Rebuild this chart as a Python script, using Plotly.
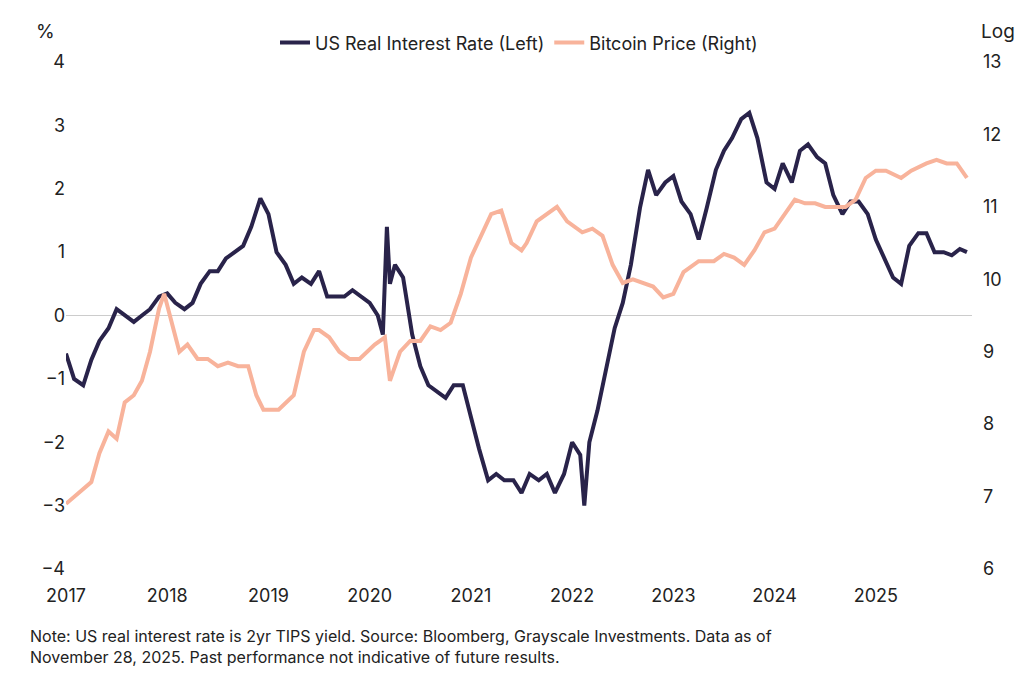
import plotly.graph_objects as go

rate_x = [2017.0,2017.08,2017.17,2017.25,2017.33,2017.42,2017.5,2017.58,2017.67,2017.75,2017.83,2017.92,
2018.0,2018.08,2018.17,2018.25,2018.33,2018.42,2018.5,2018.58,2018.67,2018.75,2018.83,2018.92,
2019.0,2019.08,2019.17,2019.25,2019.33,2019.42,2019.5,2019.58,2019.67,2019.75,2019.83,2019.92,
2020.0,2020.08,2020.13,2020.17,2020.2,2020.25,2020.33,2020.42,2020.5,2020.58,2020.67,2020.75,2020.83,2020.92,
2021.0,2021.08,2021.17,2021.25,2021.33,2021.42,2021.5,2021.58,2021.67,2021.75,2021.83,2021.92,
2022.0,2022.08,2022.12,2022.17,2022.25,2022.33,2022.42,2022.5,2022.58,2022.67,2022.75,2022.83,2022.92,
2023.0,2023.08,2023.17,2023.25,2023.33,2023.42,2023.5,2023.58,2023.67,2023.75,2023.83,2023.92,
2024.0,2024.08,2024.17,2024.25,2024.33,2024.42,2024.5,2024.58,2024.67,2024.75,2024.83,2024.92,
2025.0,2025.08,2025.17,2025.25,2025.33,2025.42,2025.5,2025.58,2025.67,2025.75,2025.83,2025.9]
rate_y = [-0.6,-1.0,-1.1,-0.7,-0.4,-0.2,0.1,0.0,-0.1,0.0,0.1,0.3,
0.35,0.2,0.1,0.2,0.5,0.7,0.7,0.9,1.0,1.1,1.4,1.85,
1.6,1.0,0.8,0.5,0.6,0.5,0.7,0.3,0.3,0.3,0.4,0.3,
0.2,0.0,-0.3,1.4,0.5,0.8,0.6,-0.3,-0.8,-1.1,-1.2,-1.3,-1.1,-1.1,
-1.6,-2.1,-2.6,-2.5,-2.6,-2.6,-2.8,-2.5,-2.6,-2.5,-2.8,-2.5,
-2.0,-2.2,-3.0,-2.0,-1.5,-0.9,-0.2,0.2,0.8,1.7,2.3,1.9,2.1,
2.2,1.8,1.6,1.2,1.7,2.3,2.6,2.8,3.1,3.2,2.8,2.1,
2.0,2.4,2.1,2.6,2.7,2.5,2.4,1.9,1.6,1.8,1.8,1.6,
1.2,0.9,0.6,0.5,1.1,1.3,1.3,1.0,1.0,0.95,1.05,1.0]

btc_x = [2017.0,2017.08,2017.17,2017.25,2017.33,2017.42,2017.5,2017.58,2017.67,2017.75,2017.83,2017.92,2017.97,
2018.05,2018.12,2018.2,2018.3,2018.4,2018.5,2018.6,2018.7,2018.8,2018.88,2018.95,
2019.1,2019.25,2019.35,2019.45,2019.5,2019.6,2019.7,2019.8,2019.9,
2020.05,2020.15,2020.2,2020.3,2020.4,2020.5,2020.6,2020.7,2020.8,2020.9,
2021.0,2021.1,2021.2,2021.3,2021.4,2021.5,2021.55,2021.65,2021.75,2021.85,2021.95,
2022.1,2022.2,2022.3,2022.4,2022.5,2022.6,2022.7,2022.8,2022.9,
2023.0,2023.1,2023.25,2023.4,2023.5,2023.6,2023.7,2023.8,2023.9,
2024.0,2024.1,2024.2,2024.3,2024.4,2024.5,2024.6,2024.7,2024.8,2024.9,
2025.0,2025.1,2025.25,2025.35,2025.5,2025.6,2025.7,2025.8,2025.9]
btc_y = [6.9,7.0,7.1,7.2,7.6,7.9,7.8,8.3,8.4,8.6,9.0,9.6,9.8,
9.4,9.0,9.1,8.9,8.9,8.8,8.85,8.8,8.8,8.4,8.2,
8.2,8.4,9.0,9.3,9.3,9.2,9.0,8.9,8.9,
9.1,9.2,8.6,9.0,9.15,9.15,9.35,9.3,9.4,9.8,
10.3,10.6,10.9,10.95,10.5,10.4,10.5,10.8,10.9,11.0,10.8,
10.65,10.7,10.6,10.2,9.95,10.0,9.95,9.9,9.75,
9.8,10.1,10.25,10.25,10.35,10.3,10.2,10.4,10.65,
10.7,10.9,11.1,11.05,11.05,11.0,11.0,11.0,11.1,11.4,
11.5,11.5,11.4,11.5,11.6,11.65,11.6,11.6,11.4]

years = [2017,2018,2019,2020,2021,2022,2023,2024,2025]

fig = go.Figure()
fig.add_trace(go.Scatter(x=btc_x, y=btc_y, name="Bitcoin Price (Right)", yaxis="y2",
                         mode="lines", line=dict(color="#f8b39b", width=4)))
fig.add_trace(go.Scatter(x=rate_x, y=rate_y, name="US Real Interest Rate (Left)",
                         mode="lines", line=dict(color="#29234a", width=4)))
fig.update_layout(
    width=1024, height=683, plot_bgcolor="white", paper_bgcolor="white",
    font=dict(family="Inter", size=18, color="#222"),
    margin=dict(l=58, r=60, t=10, b=122, autoexpand=False),
    legend=dict(orientation="h", x=0.5, xanchor="center", y=0.955, yanchor="middle",
                traceorder="reversed", font=dict(size=18)),
    xaxis=dict(range=[2017, 2025.95], tickvals=years, ticktext=[str(y) for y in years],
               showgrid=False, zeroline=False, showline=False, ticks="", ticklabelstandoff=14),
    yaxis=dict(range=[-4, 4], dtick=1, showgrid=False, zeroline=True, zerolinecolor="#cccccc",
               zerolinewidth=1, ticks="", domain=[0, 0.92]),
    yaxis2=dict(range=[6, 13], dtick=1, overlaying="y", side="right", showgrid=False,
                zeroline=False, ticklabelstandoff=10),
    annotations=[
        dict(text="%", xref="paper", yref="paper", x=-0.035, y=0.975, showarrow=False,
             xanchor="left", yanchor="middle", font=dict(size=19)),
        dict(text="Log", xref="paper", yref="paper", x=1.05, y=0.975, showarrow=False,
             xanchor="right", yanchor="middle", font=dict(size=19)),
        dict(text="Note: US real interest rate is 2yr TIPS yield. Source: Bloomberg, Grayscale Investments. Data as of<br>November 28, 2025. Past performance not indicative of future results.",
             xref="paper", yref="paper", x=-0.042, y=-0.1, showarrow=False, xanchor="left",
             yanchor="top", align="left", font=dict(size=16))
    ])
fig.write_html("out.html")
